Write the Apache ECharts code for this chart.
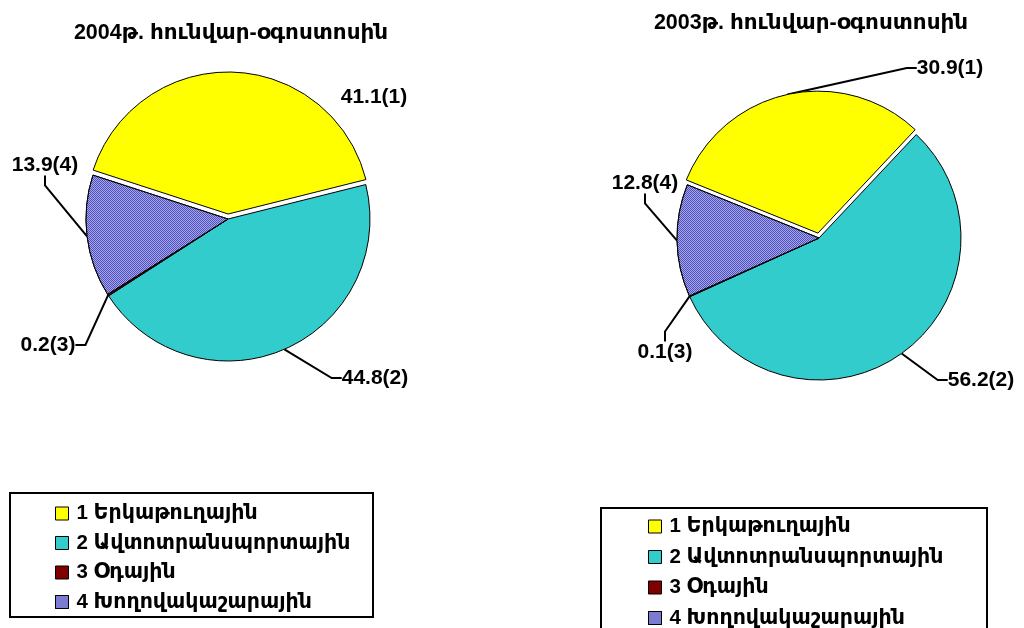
<!DOCTYPE html>
<html><head><meta charset="utf-8">
<script src="https://cdn.jsdelivr.net/npm/echarts@6/dist/echarts.min.js"></script>
<style>html,body{margin:0;padding:0;background:#fff}#c{width:1024px;height:628px}</style>
</head><body><div id="c"></div>
<script>
const categories = ['1 Երկաթուղային', '2 Ավտոտրանսպորտային', '3 Օդային', '4 Խողովակաշարային'];
const values2004 = [41.1, 44.8, 0.2, 13.9];
const values2003 = [30.9, 56.2, 0.1, 12.8];
const title2004 = '2004թ. հունվար-օգոստոսին';
const title2003 = '2003թ. հունվար-օգոստոսին';

const colors = ['#ffff00', '#33cccc', '#800000', '#5050bc'];
const labelPosLeft = [[374, 97], [375, 378], [48, 345], [45, 165]];
const labelPosRight = [[950, 68], [981, 380], [665, 352], [645, 183]];
const FONT = '"Liberation Sans", "DejaVu Sans", Arial, sans-serif';
const EXPLODE = 5;

const decal = {
  symbol: 'rect', symbolSize: 1, color: 'rgba(175,175,238,0.9)',
  dashArrayX: [[1, 1], [0, 1, 1, 0]], dashArrayY: [1, 0]
};
const TRANSPARENT = 'rgba(0,0,0,0)';

const labelBase = {
  show: true, position: 'outside', color: '#000',
  fontFamily: FONT, fontWeight: 'bold', fontSize: 21,
  formatter: p => p.value + '(' + (p.dataIndex + 1) + ')'
};

// Main pie: all slices except the exploded first one
function mainSeries(vals, center, startAngle, pos) {
  return {
    type: 'pie', center: center, radius: 142, startAngle: startAngle,
    clockwise: true, selectedMode: false, avoidLabelOverlap: false, animation: false,
    itemStyle: { borderColor: '#000', borderWidth: 1 },
    label: labelBase,
    labelLine: { show: true, lineStyle: { color: '#000', width: 2 }, length: 15, length2: 10 },
    labelLayout: p => ({ x: pos[p.dataIndex][0], y: pos[p.dataIndex][1], align: 'center', verticalAlign: 'middle' }),
    emphasis: { disabled: true },
    data: vals.map((v, i) => {
      const d = { name: categories[i], value: v, itemStyle: { color: colors[i] } };
      if (i === 3) d.itemStyle.decal = decal;
      if (i === 0) {
        d.itemStyle = { color: TRANSPARENT, borderWidth: 0 };
        d.label = { show: false }; d.labelLine = { show: false };
      }
      return d;
    })
  };
}

// Exploded first slice, drawn by a second pie whose centre is pushed along the slice's mid angle
function explodedSeries(vals, center, startAngle, pos, showLine) {
  const sum = vals.reduce((a, b) => a + b, 0);
  const mid = (startAngle - vals[0] / sum * 180) * Math.PI / 180;
  const c = [center[0] + EXPLODE * Math.cos(mid), center[1] - EXPLODE * Math.sin(mid)];
  return {
    type: 'pie', center: c, radius: 142, startAngle: startAngle,
    clockwise: true, selectedMode: false, avoidLabelOverlap: false, animation: false,
    itemStyle: { borderColor: '#000', borderWidth: 1 },
    label: labelBase,
    labelLine: { show: showLine, lineStyle: { color: '#000', width: 2 }, length: 15, length2: 10 },
    labelLayout: p => ({ x: pos[p.dataIndex][0], y: pos[p.dataIndex][1], align: 'center', verticalAlign: 'middle' }),
    emphasis: { disabled: true },
    data: vals.map((v, i) => {
      if (i === 0) return { name: categories[i], value: v, itemStyle: { color: colors[0] } };
      return { name: categories[i], value: v, itemStyle: { color: TRANSPARENT, borderWidth: 0 },
               label: { show: false }, labelLine: { show: false } };
    })
  };
}

const legendText = { fontFamily: FONT, fontSize: 20.5, fontWeight: 'bold', color: '#000', lineHeight: 20, padding: [0, 0, 0, 3] };
const legendData = categories.map((n, i) => ({
  name: n, itemStyle: Object.assign({ color: colors[i], borderColor: '#000', borderWidth: 1 }, i === 3 ? { decal: decal } : {})
}));

const chart = echarts.init(document.getElementById('c'), null, { renderer: 'canvas' });
chart.setOption({
  backgroundColor: '#fff',
  title: [
    { text: title2004, left: 226, top: 17, textAlign: 'center',
      textStyle: { fontFamily: FONT, fontWeight: 'bold', fontSize: 21.5, color: '#000' } },
    { text: title2003, left: 806, top: 7, textAlign: 'center',
      textStyle: { fontFamily: FONT, fontWeight: 'bold', fontSize: 21.5, color: '#000' } }
  ],
  graphic: [
    { type: 'rect', shape: { x: 10, y: 493, width: 363, height: 124 }, style: { fill: 'none', stroke: '#000', lineWidth: 2 } },
    { type: 'rect', shape: { x: 601, y: 508, width: 386, height: 130 }, style: { fill: 'none', stroke: '#000', lineWidth: 2 } }
  ],
  legend: [
    { orient: 'vertical', left: 50, top: 498, height: 140, itemWidth: 13, itemHeight: 13, itemGap: 8.5,
      icon: 'rect', selectedMode: false, data: legendData, textStyle: legendText },
    { orient: 'vertical', left: 643, top: 511, height: 140, itemWidth: 13, itemHeight: 13, itemGap: 9.5,
      icon: 'rect', selectedMode: false, data: legendData, textStyle: legendText }
  ],
  series: [
    mainSeries(values2004, [228, 219], 162, labelPosLeft),
    mainSeries(values2003, [819, 238], 158, labelPosRight),
    explodedSeries(values2004, [228, 219], 162, labelPosLeft, false),
    explodedSeries(values2003, [819, 238], 158, labelPosRight, true)
  ]
});
</script></body></html>
